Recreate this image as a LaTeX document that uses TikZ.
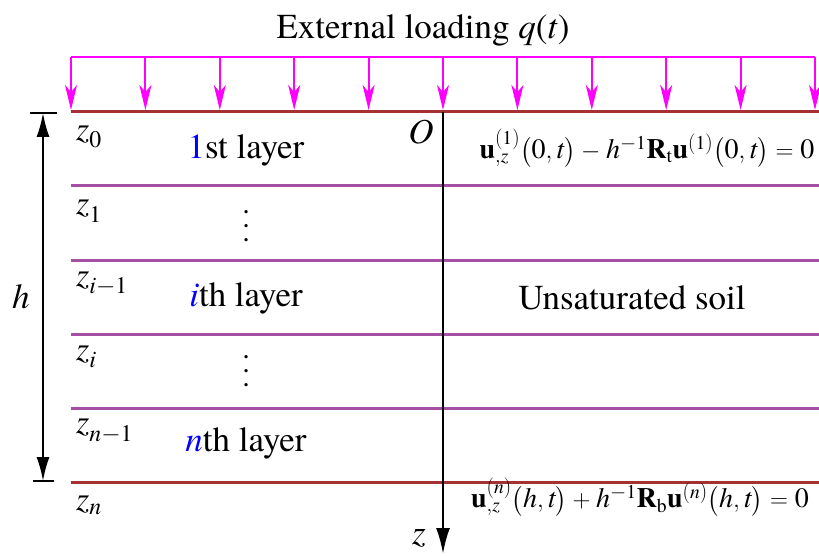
\documentclass[tikz,border=0pt]{standalone}
\usepackage{amsmath}
\usepackage{fontspec}
\setmainfont{TeX Gyre Termes}
\usetikzlibrary{positioning,arrows.meta}
\definecolor{loadmag}{RGB}{255,0,255}
\definecolor{bndbrown}{RGB}{165,50,50}
\definecolor{layerpurple}{RGB}{165,80,165}

\begin{document}
\begin{tikzpicture}[
    x=1pt, y=-1pt,
    loadarrow/.style={loadmag, line width=2pt, -{Stealth[length=25pt,width=12pt,inset=7pt]}},
    loadline/.style={loadmag, line width=2pt},
    bndline/.style={bndbrown, line width=3pt},
    layerline/.style={layerpurple, line width=3pt},
    zlabel/.style={anchor=west, inner sep=0pt, font=\fontsize{34}{38}\selectfont},
    layertext/.style={inner sep=0pt, font=\fontsize{35}{40}\selectfont},
    bigtext/.style={inner sep=0pt, font=\fontsize{35}{40}\selectfont},
    eqtext/.style={inner sep=0pt, font=\fontsize{28}{32}\selectfont},
    vdotstext/.style={inner sep=0pt, font=\fontsize{30}{14}\selectfont},
    axisarrow/.style={line width=2.5pt, -{Latex[length=26pt,width=14pt]}},
    dimarrow/.style={line width=1.8pt, {Latex[length=24pt,width=13pt]}-{Latex[length=24pt,width=13pt]}},
    tick/.style={line width=1.8pt}
]
  \useasboundingbox (0,0) rectangle (819,556);

  % Loading
  \node (load) [bigtext] at (423,30) {External loading \textit{q}(\textit{t})};
  \foreach \i in {0,...,10} {
    \coordinate (qtop\i) at ({71+\i*74.4},57);
    \coordinate (qbot\i) at ({71+\i*74.4},110);
    \draw [loadarrow] (qtop\i) -- (qbot\i);
  }
  \draw [loadline] (qtop0) -- (qtop10);

  % Layer boundaries
  \foreach \y/\s in {112/bndline,186/layerline,260/layerline,334/layerline,408/layerline,482/bndline} {
    \draw [\s] (71,\y) -- (819,\y);
  }

  % Depth labels
  \node (z0) [zlabel] at (76,137) {\textit{z}$_{\mathrm{0}}$};
  \node (z1) [zlabel] at (76,211) {\textit{z}$_{\mathrm{1}}$};
  \node (zi1) [zlabel] at (76,284) {\textit{z}$_{\mathit{i}-\mathrm{1}}$};
  \node (zi) [zlabel] at (76,357) {\textit{z}$_{\mathit{i}}$};
  \node (zn1) [zlabel] at (76,431) {\textit{z}$_{\mathit{n}-\mathrm{1}}$};
  \node (zn) [zlabel] at (76,505) {\textit{z}$_{\mathit{n}}$};

  % Layers
  \node (first) [layertext] at (246,150) {\textcolor{blue}{1}st layer};
  \node (dotsa) [vdotstext] at (246,226) {\vbox{\lineskiplimit=-50pt\hbox{.}\hbox{.}\hbox{.}}};
  \node (ith) [layertext] at (246,298) {\textcolor{blue}{\textit{i}}th layer};
  \node (dotsb) [vdotstext] at (246,371) {\vbox{\lineskiplimit=-50pt\hbox{.}\hbox{.}\hbox{.}}};
  \node (nth) [layertext] at (246,443) {\textcolor{blue}{\textit{n}}th layer};
  \node (soil) [bigtext] at (632,298) {Unsaturated soil};

  % Thickness h
  \coordinate (htop) at (43,113);
  \coordinate (hbot) at (43,481);
  \draw [tick] (30,113) -- (57,113);
  \draw [tick] (33,481) -- (54,481);
  \draw [dimarrow] (htop) -- (hbot);
  \node (h) [bigtext] at (21,297) {\textit{h}};

  % Axis z
  \coordinate (orig) at (443,112);
  \coordinate (zend) at (443,554);
  \draw [axisarrow] (orig) -- (zend);
  \node (O) [layertext] at (421,132) {\textit{O}};
  \node (zax) [bigtext] at (419,538) {\textit{z}};

  % Boundary conditions
  \node (bctop) [eqtext] at (647,148)
    {$\mathbf{u}_{,\mathit{z}}^{(\mathrm{1})}\big(\mathrm{0},\mathit{t}\big)-\mathit{h}^{-\mathrm{1}}\mathbf{R}_{\mathrm{t}}\mathbf{u}^{(\mathrm{1})}\big(\mathrm{0},\mathit{t}\big)=\mathrm{0}$};
  \node (bcbot) [eqtext] at (640,497)
    {$\mathbf{u}_{,\mathit{z}}^{(\mathit{n})}\big(\mathit{h},\mathit{t}\big)+\mathit{h}^{-\mathrm{1}}\mathbf{R}_{\mathrm{b}}\mathbf{u}^{(\mathit{n})}\big(\mathit{h},\mathit{t}\big)=\mathrm{0}$};
\end{tikzpicture}
\end{document}
